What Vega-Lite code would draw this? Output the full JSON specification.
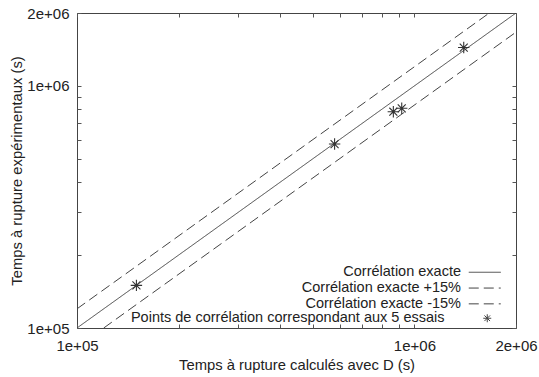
{
  "$schema": "https://vega.github.io/schema/vega-lite/v6.json",
  "width": 439,
  "height": 315,
  "autosize": {"type": "none"},
  "padding": {"left": 77, "top": 13, "right": 23, "bottom": 49},
  "background": "white",
  "config": {
    "font": "Liberation Sans",
    "view": {"stroke": "#444", "strokeWidth": 1},
    "axis": {
      "labelFont": "Liberation Sans",
      "labelFontSize": 15,
      "labelColor": "#222",
      "titleFont": "Liberation Sans",
      "titleFontSize": 14.8,
      "titleFontWeight": "normal",
      "titleColor": "#222",
      "domain": false,
      "grid": false,
      "tickColor": "#555",
      "tickWidth": 1
    },
    "legend": {
      "labelFont": "Liberation Sans",
      "labelFontSize": 14.5,
      "labelColor": "#222",
      "labelLimit": 500,
      "padding": 0,
      "rowPadding": 0.8
    }
  },
  "datasets": {
    "lines": [
      {"series": "Corrélation exacte", "x": 100000, "y": 100000},
      {"series": "Corrélation exacte", "x": 2000000, "y": 2000000},
      {"series": "Corrélation exacte +15%", "x": 100000, "y": 120000},
      {"series": "Corrélation exacte +15%", "x": 1667000, "y": 2000000},
      {"series": "Corrélation exacte -15%", "x": 120000, "y": 100000},
      {"series": "Corrélation exacte -15%", "x": 2000000, "y": 1667000}
    ],
    "points": [
      {"series": "Points de corrélation correspondant aux 5 essais", "x": 150000, "y": 150000},
      {"series": "Points de corrélation correspondant aux 5 essais", "x": 580000, "y": 575000},
      {"series": "Points de corrélation correspondant aux 5 essais", "x": 866000, "y": 782000},
      {"series": "Points de corrélation correspondant aux 5 essais", "x": 917000, "y": 808000},
      {"series": "Points de corrélation correspondant aux 5 essais", "x": 1400000, "y": 1440000}
    ]
  },
  "layer": [
    {
      "data": {"name": "lines"},
      "transform": [{"filter": "datum.series == 'Corrélation exacte'"}],
      "mark": {"type": "line", "stroke": "#444", "strokeWidth": 1, "clip": true},
      "encoding": {
        "x": {
          "field": "x", "type": "quantitative",
          "scale": {"type": "log", "domain": [100000, 2000000], "nice": false},
          "axis": {
            "orient": "bottom",
            "values": [100000, 1000000, 2000000],
            "labelExpr": "datum.value == 100000 ? '1e+05' : datum.value == 1000000 ? '1e+06' : '2e+06'",
            "ticks": false,
            "labelPadding": 10,
            "labelFlush": false,
            "labelOverlap": false,
            "title": "Temps à rupture calculés avec D (s)",
            "titlePadding": 4
          }
        },
        "y": {
          "field": "y", "type": "quantitative",
          "scale": {"type": "log", "domain": [100000, 2000000], "nice": false},
          "axis": {
            "orient": "left",
            "values": [100000, 1000000, 2000000],
            "labelExpr": "datum.value == 100000 ? '1e+05' : datum.value == 1000000 ? '1e+06' : '2e+06'",
            "ticks": false,
            "labelPadding": 8,
            "labelFlush": false,
            "labelOverlap": false,
            "title": "Temps à rupture expérimentaux (s)",
            "titlePadding": 2
          }
        },
        "strokeDash": {
          "field": "series", "type": "nominal",
          "scale": {
            "domain": ["Corrélation exacte", "Corrélation exacte +15%", "Corrélation exacte -15%"],
            "range": [[1, 0], [10, 5], [10, 5]]
          },
          "legend": {
            "orient": "none",
            "legendX": 400.5,
            "legendY": 252,
            "title": null,
            "symbolType": "M-16,0L16,0",
            "symbolSize": 4,
            "symbolStrokeColor": "#444",
            "symbolStrokeWidth": 1,
            "labelAlign": "right",
            "labelOffset": -31
          }
        }
      }
    },
    {
      "data": {"name": "lines"},
      "transform": [{"filter": "datum.series == 'Corrélation exacte +15%'"}],
      "mark": {"type": "line", "stroke": "#444", "strokeWidth": 1, "clip": true},
      "encoding": {
        "x": {
          "field": "x", "type": "quantitative",
          "scale": {"type": "log", "domain": [100000, 2000000], "nice": false},
          "axis": {
            "orient": "bottom",
            "values": [100000, 200000, 300000, 400000, 500000, 600000, 700000, 800000, 900000, 1000000, 2000000],
            "labels": false, "title": null, "ticks": true, "tickSize": -4
          }
        },
        "y": {
          "field": "y", "type": "quantitative",
          "scale": {"type": "log", "domain": [100000, 2000000], "nice": false},
          "axis": {
            "orient": "left",
            "values": [100000, 200000, 300000, 400000, 500000, 600000, 700000, 800000, 900000, 1000000, 2000000],
            "labels": false, "title": null, "ticks": true, "tickSize": -4
          }
        },
        "strokeDash": {"field": "series", "type": "nominal"}
      }
    },
    {
      "data": {"name": "lines"},
      "transform": [{"filter": "datum.series == 'Corrélation exacte -15%'"}],
      "mark": {"type": "line", "stroke": "#444", "strokeWidth": 1, "clip": true},
      "encoding": {
        "x": {
          "field": "x", "type": "quantitative",
          "scale": {"type": "log", "domain": [100000, 2000000], "nice": false},
          "axis": {
            "orient": "top",
            "values": [100000, 200000, 300000, 400000, 500000, 600000, 700000, 800000, 900000, 1000000, 2000000],
            "labels": false, "title": null, "ticks": true, "tickSize": -4
          }
        },
        "y": {
          "field": "y", "type": "quantitative",
          "scale": {"type": "log", "domain": [100000, 2000000], "nice": false},
          "axis": {
            "orient": "right",
            "values": [100000, 200000, 300000, 400000, 500000, 600000, 700000, 800000, 900000, 1000000, 2000000],
            "labels": false, "title": null, "ticks": true, "tickSize": -4
          }
        },
        "strokeDash": {"field": "series", "type": "nominal"}
      }
    },
    {
      "data": {"name": "points"},
      "mark": {"type": "point", "filled": false, "size": 130, "stroke": "#333", "strokeWidth": 1.1, "opacity": 1},
      "encoding": {
        "x": {
          "field": "x", "type": "quantitative",
          "scale": {"type": "log", "domain": [100000, 2000000], "nice": false},
          "axis": null
        },
        "y": {
          "field": "y", "type": "quantitative",
          "scale": {"type": "log", "domain": [100000, 2000000], "nice": false},
          "axis": null
        },
        "shape": {
          "field": "series", "type": "nominal",
          "scale": {"range": ["M-1,0L1,0M0,-1L0,1M-0.7,-0.7L0.7,0.7M-0.7,0.7L0.7,-0.7"]},
          "legend": {
            "orient": "none",
            "legendX": 403,
            "legendY": 298,
            "title": null,
            "symbolSize": 64,
            "symbolStrokeColor": "#444",
            "symbolStrokeWidth": 1,
            "labelAlign": "right",
            "labelOffset": -50
          }
        }
      }
    }
  ],
  "resolve": {"axis": {"x": "independent", "y": "independent"}}
}
